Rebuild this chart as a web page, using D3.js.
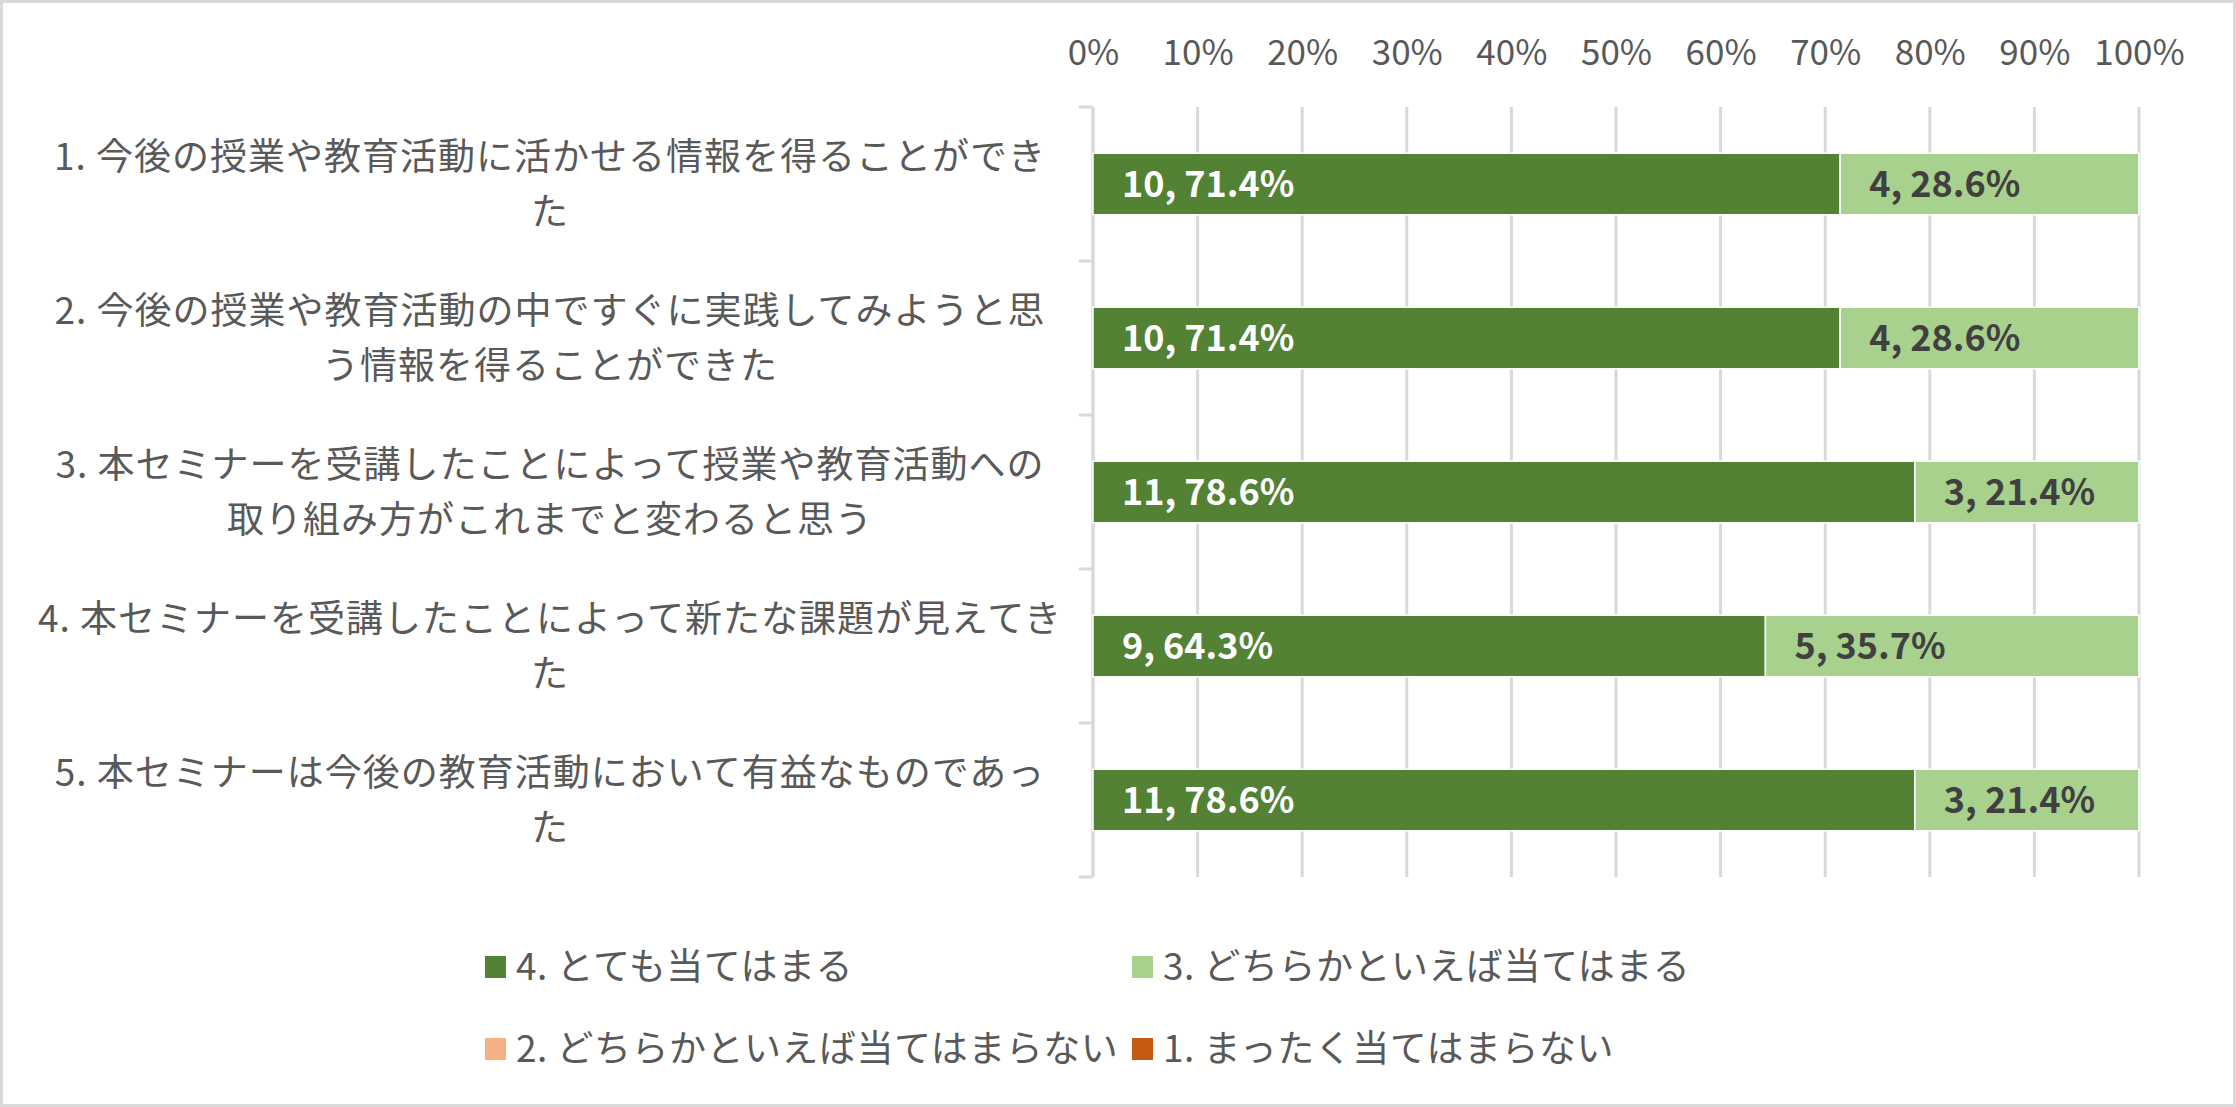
<!DOCTYPE html>
<html>
<head>
<meta charset="utf-8">
<script src="https://cdn.jsdelivr.net/npm/d3@7"></script>
<style>
  html, body { margin: 0; padding: 0; background: #fff; }
  svg text { font-family: "Noto Sans CJK JP", "Noto Sans", sans-serif; }
</style>
</head>
<body>
<div id="chart"></div>
<script>
// categories (line breaks as in the original chart)
var categories = [
  "1. 今後の授業や教育活動に活かせる情報を得ることができ\nた",
  "2. 今後の授業や教育活動の中ですぐに実践してみようと思\nう情報を得ることができた",
  "3. 本セミナーを受講したことによって授業や教育活動への\n取り組み方がこれまでと変わると思う",
  "4. 本セミナーを受講したことによって新たな課題が見えてき\nた",
  "5. 本セミナーは今後の教育活動において有益なものであっ\nた"
];
var seriesNames = ["4. とても当てはまる", "3. どちらかといえば当てはまる", "2. どちらかといえば当てはまらない", "1. まったく当てはまらない"];
var veryTrue   = [10, 10, 11, 9, 11];
var ratherTrue = [4, 4, 3, 5, 3];
var ratherNot  = [0, 0, 0, 0, 0];
var notAtAll   = [0, 0, 0, 0, 0];
var xTicks = [0, 0.1, 0.2, 0.3, 0.4, 0.5, 0.6, 0.7, 0.8, 0.9, 1];

var colors = ["#548235", "#A9D18E", "#F4B183", "#C55A11"];
var labelColors = ["#ffffff", "#404040", "#404040", "#ffffff"];

var W = 2236, H = 1107;
var plotLeft = 1093, plotRight = 2139, plotTop = 107, plotBottom = 877;

// build rows for the stack
var rows = categories.map(function (c, i) {
  return { cat: c, s0: veryTrue[i], s1: ratherTrue[i], s2: ratherNot[i], s3: notAtAll[i] };
});
var keys = ["s0", "s1", "s2", "s3"];

var stack = d3.stack().keys(keys).offset(d3.stackOffsetExpand);
var layers = stack(rows);

var svg = d3.select("#chart").append("svg")
  .attr("width", W)
  .attr("height", H);

svg.append("rect")
  .attr("x", 1.5).attr("y", 1.5)
  .attr("width", W - 3).attr("height", H - 3)
  .attr("fill", "#fff")
  .attr("stroke", "#d9d9d9")
  .attr("stroke-width", 3);

var x = d3.scaleLinear().domain([0, 1]).range([plotLeft, plotRight]);
var y = d3.scaleBand().domain(categories).range([plotTop, plotBottom]).paddingInner(0.6).paddingOuter(0.3);
var yEdge = d3.scaleLinear().domain([0, categories.length]).range([plotTop, plotBottom]);

// gridlines
svg.append("g").selectAll("line")
  .data(xTicks)
  .enter().append("line")
  .attr("x1", function (d) { return x(d); })
  .attr("x2", function (d) { return x(d); })
  .attr("y1", plotTop)
  .attr("y2", plotBottom)
  .attr("stroke", "#d9d9d9")
  .attr("stroke-width", 3);

// top axis labels
var xAxis = d3.axisTop(x)
  .tickValues(xTicks)
  .tickFormat(d3.format(".0%"))
  .tickSize(0)
  .tickPadding(0);
var gx = svg.append("g")
  .attr("transform", "translate(0,65)")
  .call(xAxis);
gx.select(".domain").remove();
gx.selectAll("text")
  .attr("fill", "#595959")
  .attr("font-size", 35)
  .attr("dy", "0");

// category axis line + boundary ticks
svg.append("line")
  .attr("x1", plotLeft).attr("x2", plotLeft)
  .attr("y1", plotTop).attr("y2", plotBottom)
  .attr("stroke", "#d9d9d9").attr("stroke-width", 3);
svg.append("g").selectAll("line")
  .data(d3.range(categories.length + 1))
  .enter().append("line")
  .attr("x1", plotLeft - 14).attr("x2", plotLeft)
  .attr("y1", function (d) { return yEdge(d); })
  .attr("y2", function (d) { return yEdge(d); })
  .attr("stroke", "#d9d9d9").attr("stroke-width", 3);

// bars
var layerG = svg.append("g").selectAll("g")
  .data(layers)
  .enter().append("g")
  .attr("fill", function (d, i) { return colors[i]; });

layerG.selectAll("rect")
  .data(function (d) { return d; })
  .enter().append("rect")
  .attr("x", function (d) { return x(d[0]); })
  .attr("y", function (d) { return y(d.data.cat); })
  .attr("width", function (d) { return x(d[1]) - x(d[0]); })
  .attr("height", y.bandwidth())
  .attr("stroke", "#fff")
  .attr("stroke-width", function (d) { return d[1] > d[0] ? 1.5 : 0; });

// data labels (inside base)
layers.forEach(function (layer, li) {
  var key = keys[li];
  svg.append("g").selectAll("text")
    .data(layer.filter(function (d) { return d.data[key] > 0; }))
    .enter().append("text")
    .attr("x", function (d) { return x(d[0]) + 29; })
    .attr("y", function (d) { return y(d.data.cat) + y.bandwidth() / 2; })
    .attr("dy", "0.36em")
    .attr("fill", labelColors[li])
    .attr("font-size", 36)
    .attr("font-weight", 700)
    .text(function (d) {
      return d.data[key] + ", " + ((d[1] - d[0]) * 100).toFixed(1) + "%";
    });
});

// category labels
var catG = svg.append("g").selectAll("text")
  .data(categories)
  .enter().append("text")
  .attr("x", 550)
  .attr("y", function (d) { return y(d) + y.bandwidth() / 2; })
  .attr("text-anchor", "middle")
  .attr("fill", "#595959")
  .attr("font-size", 37)
  .attr("letter-spacing", 1);
catG.each(function (d) {
  var lines = d.split("\n");
  var t = d3.select(this);
  lines.forEach(function (ln, k) {
    t.append("tspan")
      .attr("x", 550)
      .attr("dy", k === 0 ? (-(lines.length - 1) * 0.5 * 1.48 + 0.36) + "em" : "1.48em")
      .text(ln);
  });
});

// legend
var legendX = [485, 1132];
var legendY = [967, 1049];
var leg = svg.append("g").selectAll("g")
  .data(seriesNames)
  .enter().append("g")
  .attr("transform", function (d, i) {
    return "translate(" + legendX[i % 2] + "," + legendY[Math.floor(i / 2)] + ")";
  });
leg.append("rect")
  .attr("x", 0).attr("y", -11)
  .attr("width", 21).attr("height", 22)
  .attr("fill", function (d, i) { return colors[i]; });
leg.append("text")
  .attr("x", 31)
  .attr("dy", "0.36em")
  .attr("fill", "#595959")
  .attr("font-size", 37)
  .attr("letter-spacing", 0.5)
  .text(function (d) { return d; });
</script>
</body>
</html>
